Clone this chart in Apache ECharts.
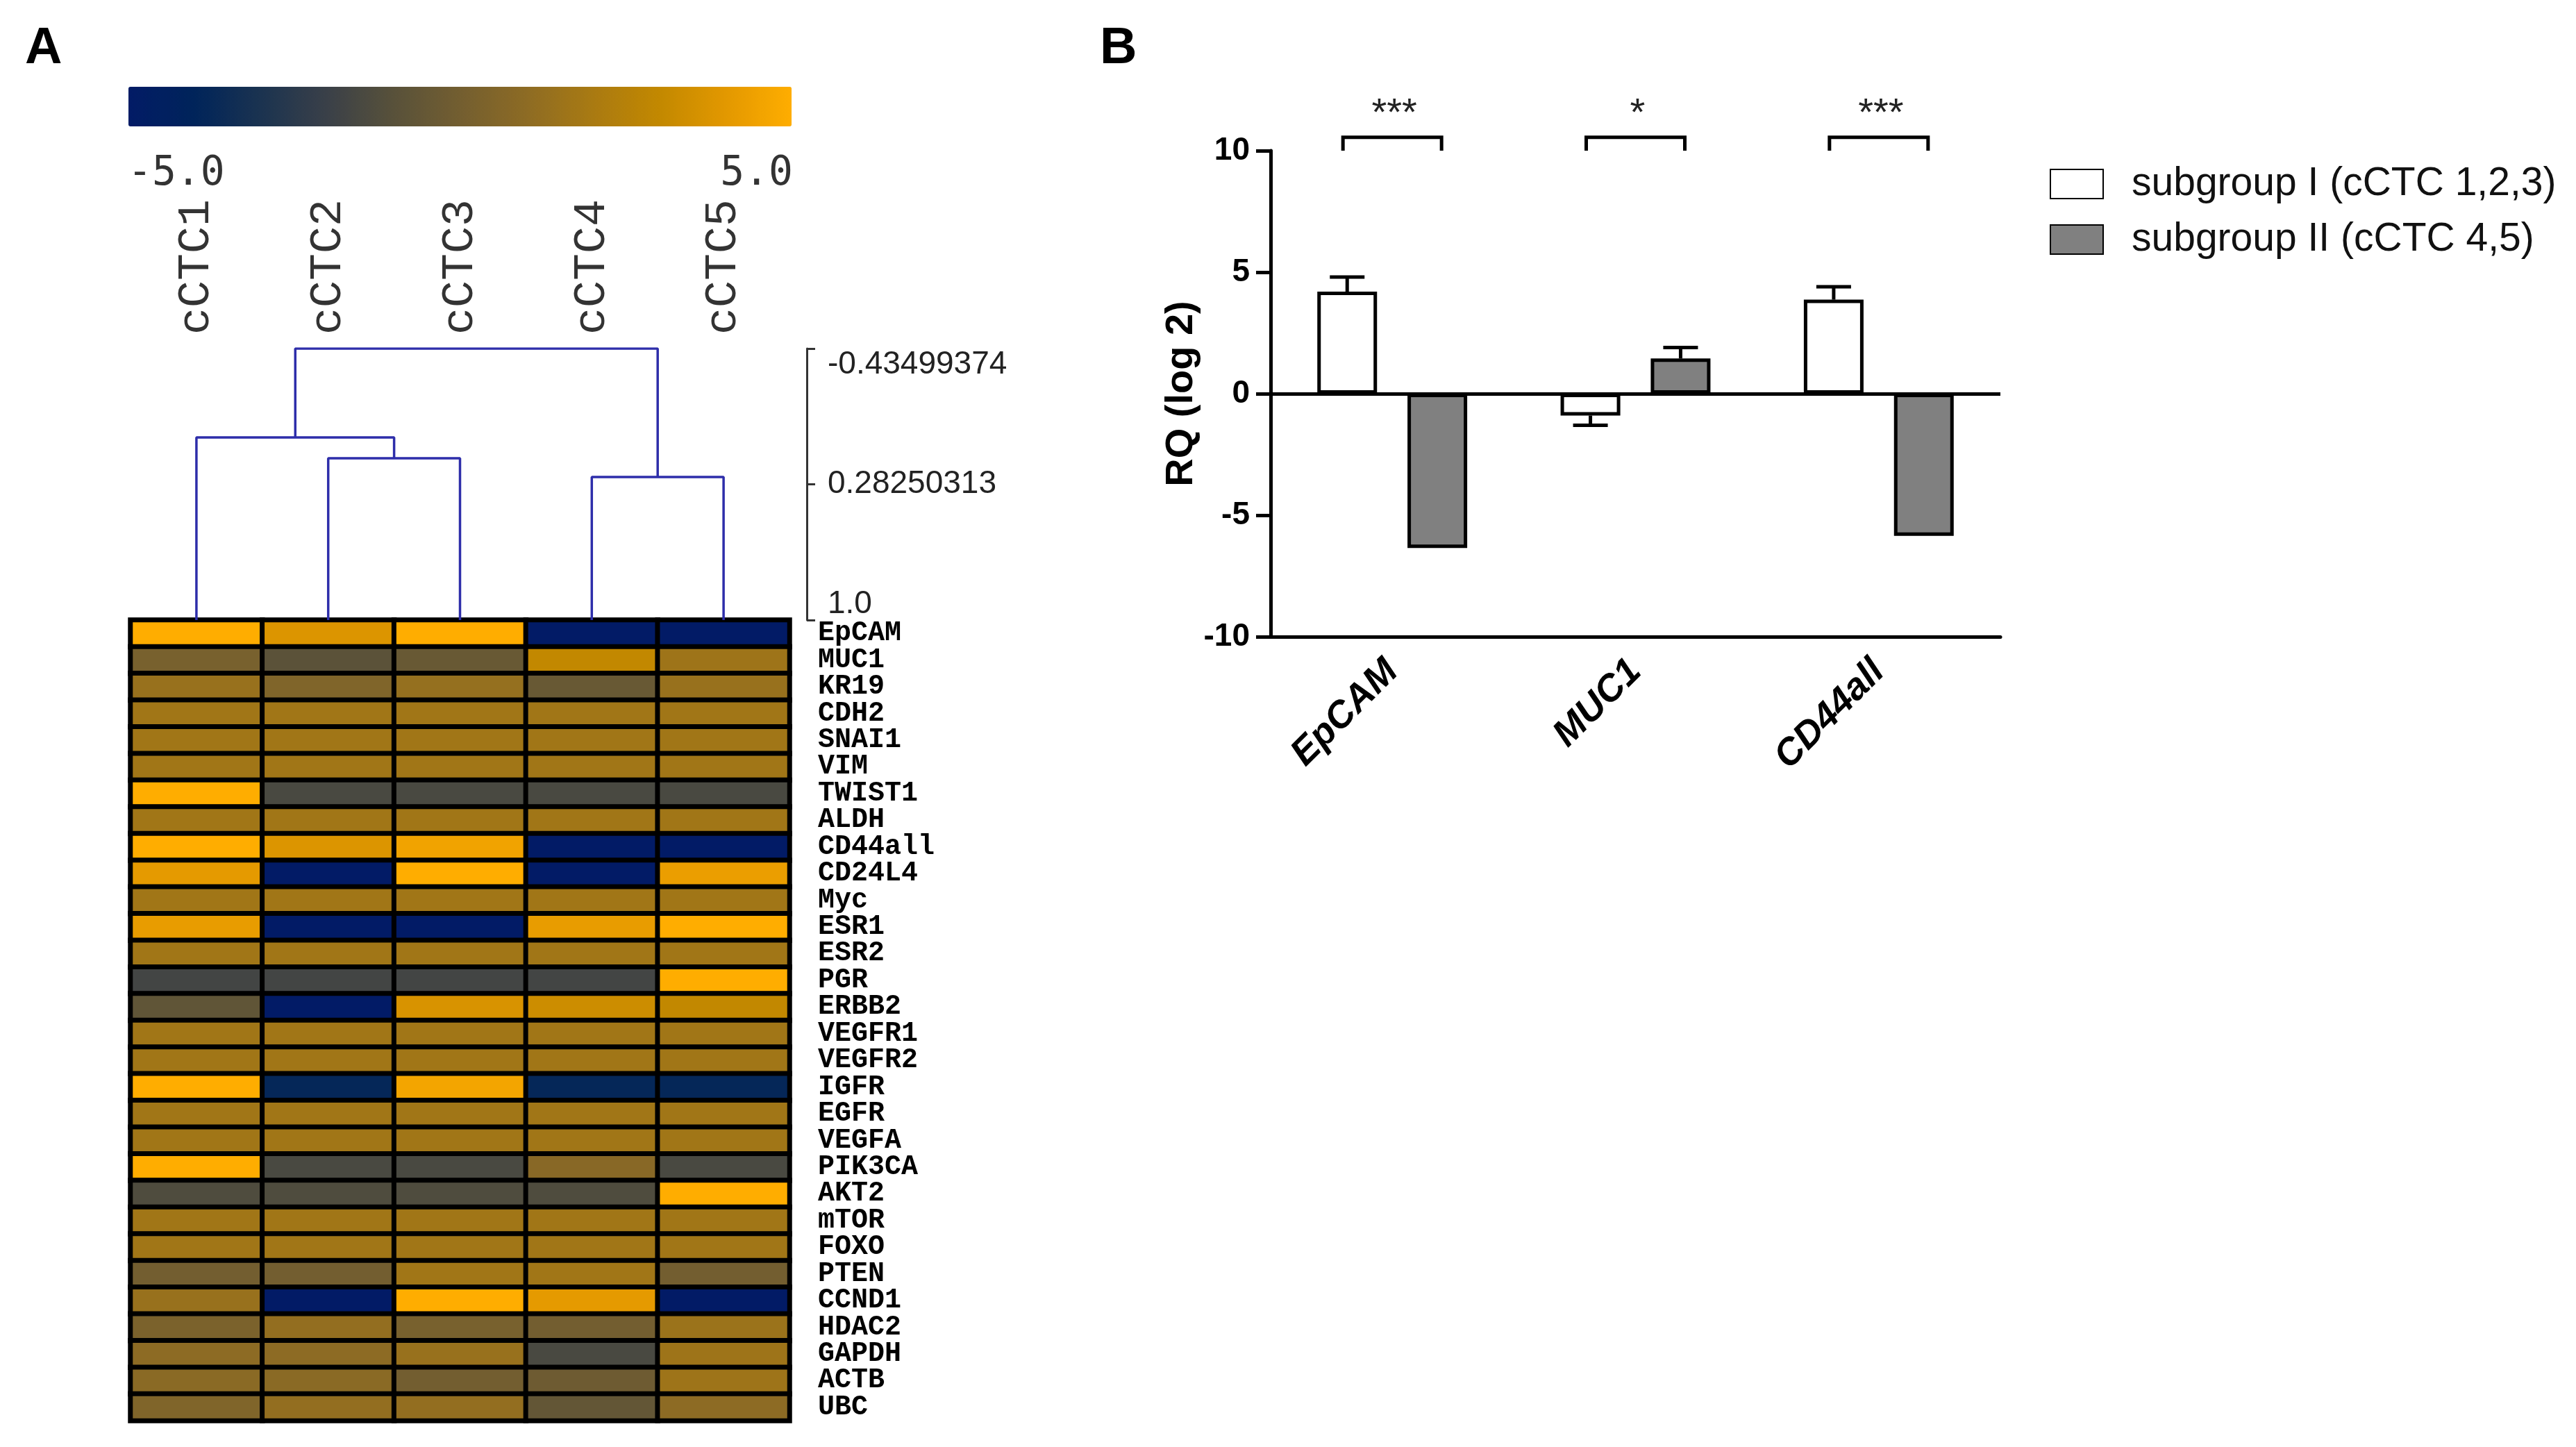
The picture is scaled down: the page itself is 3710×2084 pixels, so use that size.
<!DOCTYPE html>
<html><head><meta charset="utf-8">
<script src="https://cdn.jsdelivr.net/npm/echarts@6/dist/echarts.min.js"></script>
<style>html,body{margin:0;padding:0;background:#fff}#c{width:3710px;height:2084px}</style>
</head><body><div id="c"></div>
<script>
// ---------- Panel A data ----------
const samples = ['cCTC1','cCTC2','cCTC3','cCTC4','cCTC5'];
const genes = ['EpCAM','MUC1','KR19','CDH2','SNAI1','VIM','TWIST1','ALDH','CD44all','CD24L4',
  'Myc','ESR1','ESR2','PGR','ERBB2','VEGFR1','VEGFR2','IGFR','EGFR','VEGFA',
  'PIK3CA','AKT2','mTOR','FOXO','PTEN','CCND1','HDAC2','GAPDH','ACTB','UBC'];
const expr = [
  [5, 3.8, 5, -5, -5],
  [0.2, -0.9, -0.4, 3.0, 1.6],
  [1.4, 0.5, 1.3, -0.4, 1.4],
  [1.7, 1.7, 1.7, 1.7, 1.7],
  [1.7, 1.7, 1.7, 1.7, 1.7],
  [1.7, 1.7, 1.7, 1.7, 1.7],
  [5, -1.5, -1.5, -1.5, -1.5],
  [1.7, 1.7, 1.7, 1.7, 1.7],
  [5, 3.8, 4.5, -5, -5],
  [4.1, -5, 5, -5, 4.3],
  [1.7, 1.7, 1.7, 1.7, 1.7],
  [4.2, -5, -5, 4.2, 5],
  [1.7, 1.7, 1.7, 1.7, 1.7],
  [-1.7, -1.7, -1.7, -1.7, 5],
  [-0.7, -5, 3.7, 3.3, 3.0],
  [1.7, 1.7, 1.7, 1.7, 1.7],
  [1.7, 1.7, 1.7, 1.7, 1.7],
  [5, -3.8, 4.6, -3.8, -3.8],
  [1.7, 1.7, 1.7, 1.7, 1.7],
  [1.7, 1.7, 1.7, 1.7, 1.7],
  [5, -1.5, -1.5, 0.8, -1.5],
  [-1.3, -1.3, -1.3, -1.3, 5],
  [1.7, 1.7, 1.7, 1.7, 1.7],
  [1.7, 1.7, 1.7, 1.7, 1.7],
  [0, 0, 1.7, 1.7, 0],
  [1.4, -5, 5, 4.1, -5],
  [0.3, 1.2, 0.2, 0, 1.5],
  [1.0, 1.0, 1.4, -1.5, 1.6],
  [0.9, 0.9, 0, -0.2, 1.6],
  [0.5, 1.2, 1.2, -0.6, 1.0]
];
const colorScaleMin = -5, colorScaleMax = 5;
const colorScaleLabels = ['-5.0', '5.0'];
// dendrogram merges: [left child, right child, height]; children 'L<i>' leaf or 'M<i>' merge
const dendroMerges = [
  ['L1', 'L2', 0.145],
  ['L0', 'M0', 0.035],
  ['L3', 'L4', 0.244],
  ['M1', 'M2', -0.43499374]
];
const dendroTickValues = [-0.43499374, 0.28250313, 1.0];
const dendroTickLabels = ['-0.43499374', '0.28250313', '1.0'];

// ---------- Panel B data ----------
const barCats = ['EpCAM', 'MUC1', 'CD44all'];
const groupNames = ['subgroup I (cCTC 1,2,3)', 'subgroup II (cCTC 4,5)'];
const meanI = [4.2, -0.9, 3.87];
const errI = [0.6, 0.4, 0.53];
const meanII = [-6.35, 1.45, -5.85];
const errII = [0, 0.45, 0];
const sigLabels = ['***', '*', '***'];
const yMin = -10, yMax = 10, yStep = 5;

// ---------- build ----------
const heatData = [];
expr.forEach((row, gi) => row.forEach((v, si) => heatData.push([si, gi, v])));

function nodePos(id) {
  if (id[0] === 'L') { const i = +id.slice(1); return [i + 0.5, 1.0]; }
  const m = dendroMerges[+id.slice(1)];
  const a = nodePos(m[0]), b = nodePos(m[1]);
  return [(a[0] + b[0]) / 2, m[2]];
}
const dendroSeries = dendroMerges.map(m => {
  const a = nodePos(m[0]), b = nodePos(m[1]);
  return {
    type: 'line', xAxisIndex: 0, yAxisIndex: 0, symbol: 'none', silent: true,
    lineStyle: { color: '#2e2eaa', width: 3.5 },
    data: [[a[0], a[1]], [a[0], m[2]], [b[0], m[2]], [b[0], b[1]]]
  };
});

const BAR_W = 86, BAR_GAP = 0.51;
const barOffset = BAR_W * (1 + BAR_GAP) / 2;
const errData = [];
meanI.forEach((m, i) => errData.push([i, m, errI[i], 0]));
meanII.forEach((m, i) => errData.push([i, m, errII[i], 1]));

const sans = 'Liberation Sans, Arial, sans-serif';
const mono = 'Liberation Mono, Courier New, monospace';

const option = {
  animation: false,
  backgroundColor: '#ffffff',
  title: [
    { text: 'A', left: 36, top: 34, padding: 0, textStyle: { fontSize: 74, fontWeight: 'bold', fontFamily: sans, color: '#000' } },
    { text: 'B', left: 1584, top: 34, padding: 0, textStyle: { fontSize: 74, fontWeight: 'bold', fontFamily: sans, color: '#000' } }
  ],
  graphic: [
    { type: 'text', left: 184, top: 222, style: { text: colorScaleLabels[0], font: '58px "DejaVu Sans Mono"', fill: '#333' } },
    { type: 'text', right: 3710 - 1142, top: 222, style: { text: colorScaleLabels[1], font: '58px "DejaVu Sans Mono"', fill: '#333' } }
  ],
  visualMap: {
    type: 'continuous', seriesIndex: 0, min: colorScaleMin, max: colorScaleMax,
    orient: 'horizontal', left: 185, top: 125, itemWidth: 57, itemHeight: 955,
    calculable: false, text: null, showLabel: false, padding: 0, hoverLink: false,
    inRange: { color: ['#021b66', '#00245a', '#1b3350', '#3a4048', '#58513a', '#735e30',
                        '#8d6b24', '#a97a12', '#c28800', '#e29800', '#ffad00'] }
  },
  legend: {
    data: groupNames, orient: 'vertical', left: 2952, top: 236, padding: 0,
    itemWidth: 76, itemHeight: 42, itemGap: 22, icon: 'rect', selectedMode: false,
    textStyle: { fontSize: 57, fontFamily: sans, color: '#111', lineHeight: 58, padding: [0, 0, 0, 36] }
  },
  grid: [
    { left: 188, width: 949, top: 502, height: 391, outerBoundsMode: 'none' },
    { left: 188, width: 949, top: 893, height: 1153, outerBoundsMode: 'none' },
    { left: 1830, right: 829, top: 217, bottom: 1167, outerBoundsMode: 'none' }
  ],
  xAxis: [
    { type: 'value', gridIndex: 0, min: 0, max: 5, show: false },
    { type: 'category', gridIndex: 1, data: samples, position: 'top', offset: 403,
      axisLine: { show: false }, axisTick: { show: false }, splitLine: { show: false },
      axisLabel: { rotate: -90, margin: 8, fontFamily: mono, fontSize: 65, color: '#333', interval: 0 } },
    { type: 'category', gridIndex: 2, data: barCats,
      axisLine: { onZero: false, lineStyle: { color: '#000', width: 5 } },
      axisTick: { alignWithLabel: true, length: 24, lineStyle: { color: '#000', width: 5 } },
      axisLabel: { rotate: 45, margin: 42, fontSize: 54, fontStyle: 'italic', fontWeight: 'bold', fontFamily: sans, color: '#000', interval: 0 } }
  ],
  yAxis: [
    { type: 'value', gridIndex: 0, inverse: true, min: dendroTickValues[0], max: dendroTickValues[2],
      position: 'right', offset: 25, splitLine: { show: false },
      axisLine: { show: true, onZero: false, lineStyle: { color: '#333', width: 3 } },
      axisTick: { show: true, customValues: dendroTickValues, length: 12, lineStyle: { color: '#333', width: 3 } },
      axisLabel: { customValues: dendroTickValues, margin: 30, fontSize: 46, fontFamily: sans, color: '#222',
        verticalAlignMinLabel: 'top', verticalAlignMaxLabel: 'bottom',
        formatter: v => { const i = dendroTickValues.findIndex(t => Math.abs(t - v) < 1e-6); return i >= 0 ? dendroTickLabels[i] : ''; } } },
    { type: 'category', gridIndex: 1, data: genes, inverse: true, position: 'right',
      axisLine: { show: false }, axisTick: { show: false }, splitLine: { show: false },
      axisLabel: { margin: 41, fontFamily: mono, fontWeight: 'bold', fontSize: 40, color: '#000', interval: 0 } },
    { type: 'value', gridIndex: 2, min: yMin, max: yMax, interval: yStep, splitLine: { show: false },
      name: 'RQ (log 2)', nameLocation: 'middle', nameRotate: 90, nameGap: 96,
      nameTextStyle: { fontSize: 56, fontWeight: 'bold', fontFamily: sans, color: '#000' },
      axisLine: { show: true, lineStyle: { color: '#000', width: 5 } },
      axisTick: { show: true, length: 21, lineStyle: { color: '#000', width: 5 } },
      axisLabel: { margin: 30, fontSize: 46, fontWeight: 'bold', fontFamily: sans, color: '#000' } }
  ],
  series: [
    { type: 'heatmap', xAxisIndex: 1, yAxisIndex: 1, data: heatData, silent: true,
      itemStyle: { borderColor: '#000', borderWidth: 7 }, emphasis: { disabled: true } },
    ...dendroSeries,
    { name: groupNames[0], type: 'bar', xAxisIndex: 2, yAxisIndex: 2, data: meanI,
      barWidth: BAR_W, barGap: (BAR_GAP * 100) + '%', silent: true,
      itemStyle: { color: '#ffffff', borderColor: '#000', borderWidth: 5 },
      markLine: { silent: true, symbol: 'none', label: { show: false },
        lineStyle: { color: '#000', width: 5, type: 'solid' }, data: [{ yAxis: 0 }] } },
    { name: groupNames[1], type: 'bar', xAxisIndex: 2, yAxisIndex: 2, data: meanII,
      barWidth: BAR_W, barGap: (BAR_GAP * 100) + '%', silent: true,
      itemStyle: { color: '#808080', borderColor: '#000', borderWidth: 5 } },
    { type: 'custom', xAxisIndex: 2, yAxisIndex: 2, data: errData, silent: true, z: 5, clip: false,
      renderItem: (params, api) => {
        const ci = api.value(0), m = api.value(1), e = api.value(2), g = api.value(3);
        if (!e) return null;
        const sign = m >= 0 ? 1 : -1;
        const p0 = api.coord([ci, m]), p1 = api.coord([ci, m + sign * e]);
        const x = p0[0] + (g === 0 ? -barOffset : barOffset);
        return { type: 'group', children: [
          { type: 'line', shape: { x1: x, y1: p0[1], x2: x, y2: p1[1] }, style: { stroke: '#000', lineWidth: 5 } },
          { type: 'line', shape: { x1: x - 25, y1: p1[1], x2: x + 25, y2: p1[1] }, style: { stroke: '#000', lineWidth: 5 } }
        ] };
      } },
    { type: 'custom', xAxisIndex: 2, yAxisIndex: 2, data: sigLabels.map((s, i) => [i, yMax]), silent: true, z: 5, clip: false,
      renderItem: (params, api) => {
        const ci = api.value(0);
        const c = api.coord([ci, yMax]);
        const yLeg = c[1];
        const yBr = api.coord([ci, yMax + 0.55])[1];
        const yStar = api.coord([ci, yMax + 1.5])[1];
        const xL = c[0] - 71, xR = c[0] + 71;
        return { type: 'group', children: [
          { type: 'polyline', shape: { points: [[xL, yLeg], [xL, yBr], [xR, yBr], [xR, yLeg]] },
            style: { stroke: '#000', lineWidth: 5, fill: null } },
          { type: 'text', x: c[0] + 3, y: yStar,
            style: { text: sigLabels[params.dataIndex], font: '56px "Liberation Sans"', fill: '#222', align: 'center', verticalAlign: 'middle' } }
        ] };
      } }
  ]
};
const chart = echarts.init(document.getElementById('c'), null, { renderer: 'canvas' });
chart.setOption(option);
</script></body></html>
